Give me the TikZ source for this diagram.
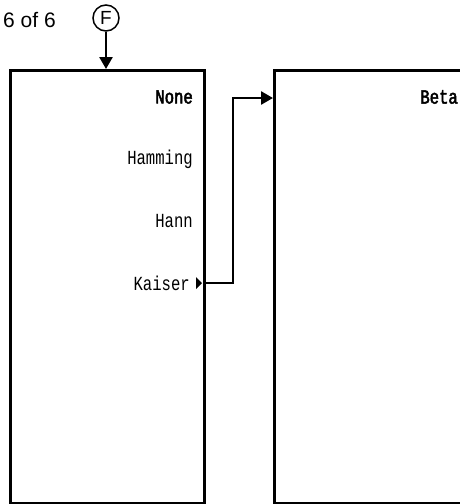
\documentclass[tikz,border=0pt]{standalone}
\usepackage{fontspec}
\setmainfont{Liberation Sans}
\newfontfamily\screenfont[FakeStretch=0.78]{Liberation Mono}
\newfontfamily\screenbold[FakeStretch=0.78,FakeBold=2.5]{Liberation Mono}
\usetikzlibrary{arrows.meta}

\tikzset{
  panel/.style = {draw, line width=3pt, anchor=north west, inner sep=0pt},
  softkey/.style = {font=\screenfont\fontsize{20}{20}\selectfont, anchor=east, inner sep=0pt},
  wire/.style = {line width=2.6pt, -{Triangle[length=12pt,width=13pt]}}
}

\begin{document}
\begin{tikzpicture}[x = 1pt, y = -1pt]
\clip (0,0) rectangle (460,504);
\fill[white] (0,0) rectangle (460,504);
% page counter and front panel key
\node[anchor = west, inner sep = 0pt, font = \fontsize{21}{21}\selectfont] (page) at (3,20) {6 of 6};
\node[draw, circle, line width = 1.5pt, minimum size = 26pt, inner sep = 0pt, font = \fontsize{19}{19}\selectfont] (fkey) at (106,18) {F};
% menu panels
\node[panel, minimum width = 194pt, minimum height = 433pt] (menu) at (9,69) {};
\node[panel, minimum width = 240pt, minimum height = 433pt] (detail) at (273,69) {};
\node[softkey, font = \screenbold\fontsize{20}{20}\selectfont] (none) at (193,97) {None};
\node[softkey] (hamming) at (193,159) {Hamming};
\node[softkey] (hann) at (193,221) {Hann};
\node[softkey] (kaiser) at (190,283) {Kaiser};
\node[softkey, font = \screenbold\fontsize{20}{20}\selectfont] (beta) at (458,97) {Beta};
% connectors
\draw[wire] (fkey) -- (fkey |- menu.north);
\fill (196,277) -- (202,283) -- (196,289) -- cycle;
\coordinate (jog) at (233,98);
\draw[wire] (menu.east |- kaiser) -| (jog) -- (detail.west |- jog);
\end{tikzpicture}
\end{document}
